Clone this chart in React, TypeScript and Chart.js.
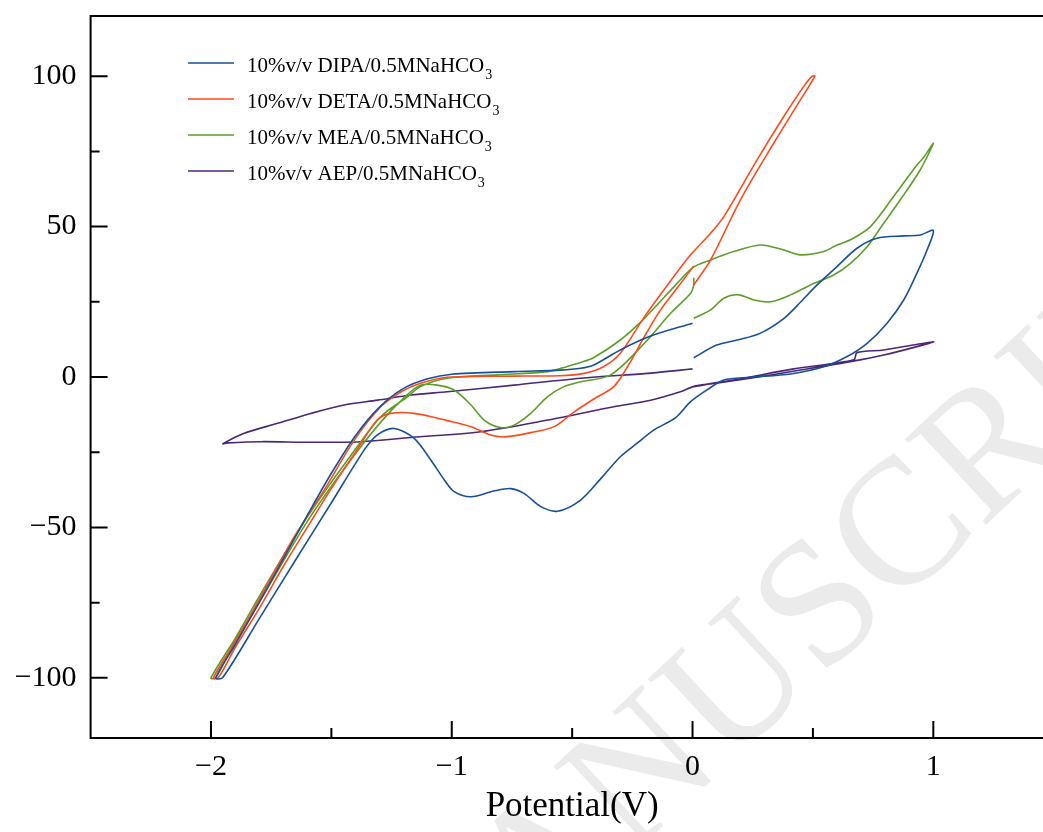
import React, { useEffect, useRef } from 'react';
import { Chart, registerables } from 'chart.js';

Chart.register(...registerables);

// ---------- data ----------
const seriesLabels = ['DIPA', 'DETA', 'MEA', 'AEP'];
const seriesColors = ['#17509a', '#ff4a1c', '#5c9e2a', '#4b2778'];

const xMajorTicks = [-2, -1, 0, 1];
const xMinorTicks = [-1.5, -0.5, 0.5];
const yMajorTicks = [-100, -50, 0, 50, 100];
const yMinorTicks = [-75, -25, 25, 75];

// DIPA (blue)
const dipaV = [0.005, 0.10, 0.185, 0.28, 0.38, 0.45, 0.517, 0.60, 0.683, 0.766, 0.877, 0.946, 1.0, 0.974, 0.932, 0.877, 0.808, 0.725, 0.642, 0.545, 0.407, 0.24, 0.13, 0.06, -0.008, -0.07, -0.16, -0.23, -0.30, -0.38, -0.465, -0.56, -0.63, -0.70, -0.755, -0.825, -0.92, -0.99, -1.03, -1.087, -1.156, -1.24, -1.31, -1.364, -1.5, -1.65, -1.8, -1.952, -1.98, -1.9, -1.8, -1.7, -1.6, -1.5, -1.4, -1.3, -1.2, -1.1, -1.0, -0.74, -0.55, -0.465, -0.41, -0.30, -0.174, 0.0];
const dipaI = [6.4, 10.6, 12.3, 14.5, 19.5, 25, 30.6, 36.7, 42.8, 46.1, 46.9, 47.2, 48.7, 42.2, 34.5, 25.6, 17.9, 11.2, 6.8, 3.4, 1.0, -0.1, -1.0, -4.3, -8.2, -13.5, -17.6, -22, -26.5, -33.7, -40.9, -44.6, -43.1, -38.7, -37.1, -37.9, -39.8, -38.1, -34.3, -27.6, -20.4, -17.1, -19.3, -24.3, -41.8, -61, -80.4, -100, -100, -89, -75, -60.5, -46, -32, -19.5, -10, -3.8, -0.6, 0.9, 1.8, 2.3, 2.9, 4.0, 9.0, 13.6, 17.9];

// DETA (red)
const detaV = [0.005, 0.075, 0.199, 0.337, 0.448, 0.508, 0.497, 0.462, 0.379, 0.268, 0.13, 0.075, -0.008, -0.10, -0.20, -0.30, -0.37, -0.45, -0.55, -0.74, -1.02, -1.13, -1.21, -1.295, -1.405, -1.53, -1.654, -1.8, -1.9, -1.99, -1.97, -1.9, -1.8, -1.7, -1.6, -1.5, -1.4, -1.31, -1.253, -1.156, -1.018, -0.92, -0.838, -0.78, -0.672, -0.575, -0.49, -0.41, -0.327, -0.27, -0.20, -0.133, -0.06, 0.005];
const detaI = [30.6, 38.9, 58.9, 77.7, 92.1, 100, 100, 96.6, 86.6, 72.2, 53.3, 47.8, 40.6, 31, 20, 7.9, 3.4, 1.2, 0.4, 0.3, -0.1, -2.1, -4.9, -9.9, -21, -37.6, -53.1, -74, -88, -100, -100, -90, -77, -63, -50, -37, -25, -14.3, -12.1, -12.1, -14.5, -16.5, -19.3, -19.9, -18.5, -16.5, -11.5, -7.3, -3.2, 3.4, 13.4, 22.3, 30, 36.9];

// MEA (green)
const meaV = [0.005, 0.075, 0.13, 0.192, 0.254, 0.324, 0.407, 0.49, 0.586, 0.656, 0.725, 0.794, 0.863, 0.946, 1.0, 0.96, 0.932, 0.835, 0.739, 0.656, 0.60, 0.545, 0.448, 0.379, 0.282, 0.171, 0.075, 0.0, -0.063, -0.20, -0.30, -0.41, -0.465, -0.52, -0.60, -0.81, -1.02, -1.13, -1.184, -1.295, -1.433, -1.6, -1.8, -1.9, -2.0, -1.98, -1.9, -1.8, -1.6, -1.433, -1.295, -1.2, -1.13, -1.06, -0.99, -0.92, -0.866, -0.797, -0.741, -0.672, -0.603, -0.534, -0.465, -0.34, -0.2, -0.091, -0.008, 0.005, 0.005];
const meaI = [19.5, 22.3, 26.2, 27.3, 25.6, 25.0, 27.3, 30.6, 33.9, 37.8, 43.3, 51.1, 58.9, 68.9, 77.7, 73, 70.5, 60, 50, 45.6, 43.9, 41.7, 40.6, 42.2, 43.9, 41.7, 38.9, 36.3, 31.2, 19.5, 12.3, 6.5, 4.8, 3.5, 1.8, 0.7, -0.4, -3.2, -6.6, -13.2, -27.6, -46.5, -73, -87, -100, -100, -88, -75, -48, -29, -15, -7, -2.7, -2.7, -4.3, -9.3, -14.3, -16.8, -16.0, -12.1, -6.6, -3.2, -1.6, 0.7, 11.2, 21.2, 27.8, 30.6, 33];

// AEP (purple)
const aepV = [0.005, 0.17, 0.42, 0.67, 0.683, 0.794, 1.0, 0.932, 0.794, 0.656, 0.448, 0.24, 0.005, -0.05, -0.174, -0.327, -0.60, -0.88, -1.17, -1.378, -1.585, -1.79, -1.93, -1.95, -1.862, -1.723, -1.585, -1.447, -1.308, -1.17, -1.018, -0.741, -0.465, -0.188, -0.05, 0.0];
const aepI = [-3.0, -1.0, 2.7, 5.7, 8.1, 9.0, 11.7, 10.1, 7.3, 5.1, 2.3, -0.4, -3.2, -4.9, -7.7, -9.9, -14.3, -18.2, -20.1, -21.5, -21.7, -21.5, -21.9, -22.2, -18.7, -15.4, -12.1, -9.3, -7.7, -6.0, -4.9, -2.7, -0.4, 1.2, 2.3, 2.7];

const seriesV = [dipaV, detaV, meaV, aepV];
const seriesI = [dipaI, detaI, meaI, aepI];

const watermarkText = 'ACCEPTED MANUSCRIPT';

// ---------- style ----------
const FONT = "'Liberation Serif', 'Times New Roman', serif";
const CANVAS_W = 1070;
const CANVAS_H = 832;

const fmt = (v: number) => (v < 0 ? '\u2212' + Math.abs(v) : String(v));

const watermarkPlugin = {
  id: 'watermarkPlugin',
  beforeDraw(chart: any) {
    const { ctx } = chart;
    ctx.save();
    ctx.fillStyle = '#ebebeb';
    ctx.font = '180px ' + FONT;
    ctx.textBaseline = 'middle';
    ctx.textAlign = 'left';
    ctx.translate(810, 624);
    ctx.rotate((-43 * Math.PI) / 180);
    const full = ctx.measureText(watermarkText).width;
    const tail = ctx.measureText('MANUSCRIPT').width;
    ctx.fillText(watermarkText, -(full - tail) - tail / 2, 0);
    ctx.restore();
  },
};

const axesPlugin = {
  id: 'axesPlugin',
  afterDatasetsDraw(chart: any) {
    const { ctx, chartArea, scales } = chart;
    const { left, right, top, bottom } = chartArea;
    const x = scales.x;
    const y = scales.y;
    ctx.save();
    ctx.strokeStyle = '#000';
    ctx.lineWidth = 2;
    ctx.lineCap = 'butt';
    ctx.beginPath();
    ctx.moveTo(left - 1, top);
    ctx.lineTo(right + 1, top);
    ctx.moveTo(left, top - 1);
    ctx.lineTo(left, bottom + 1);
    ctx.moveTo(left - 1, bottom);
    ctx.lineTo(right + 1, bottom);
    ctx.moveTo(right, top - 1);
    ctx.lineTo(right, bottom + 1);
    xMajorTicks.forEach((v) => {
      const p = x.getPixelForValue(v);
      ctx.moveTo(p, bottom);
      ctx.lineTo(p, bottom - 17);
    });
    xMinorTicks.forEach((v) => {
      const p = x.getPixelForValue(v);
      ctx.moveTo(p, bottom);
      ctx.lineTo(p, bottom - 10);
    });
    yMajorTicks.forEach((v) => {
      const p = y.getPixelForValue(v);
      ctx.moveTo(left, p);
      ctx.lineTo(left + 17, p);
    });
    yMinorTicks.forEach((v) => {
      const p = y.getPixelForValue(v);
      ctx.moveTo(left, p);
      ctx.lineTo(left + 9, p);
    });
    ctx.stroke();
    ctx.restore();
  },
};

const legendPlugin = {
  id: 'legendPlugin',
  afterDraw(chart: any) {
    const { ctx } = chart;
    ctx.save();
    seriesLabels.forEach((name, i) => {
      const yLine = 63 + 36 * i;
      ctx.strokeStyle = seriesColors[i];
      ctx.lineWidth = 1.6;
      ctx.beginPath();
      ctx.moveTo(188, yLine);
      ctx.lineTo(234, yLine);
      ctx.stroke();
      const main = '10%v/v ' + name + '/0.5MNaHCO';
      ctx.fillStyle = '#000';
      ctx.textBaseline = 'alphabetic';
      ctx.textAlign = 'left';
      ctx.font = '21px ' + FONT;
      ctx.fillText(main, 247, yLine + 9);
      const w = ctx.measureText(main).width;
      ctx.font = '14px ' + FONT;
      ctx.fillText('3', 247 + w + 1, yLine + 16);
    });
    ctx.restore();
  },
};

export default function App() {
  const ref = useRef<HTMLCanvasElement>(null);

  useEffect(() => {
    const canvas = ref.current;
    if (!canvas) return;
    const datasets = seriesLabels.map((name, i) => ({
      label: '10%v/v ' + name + '/0.5MNaHCO3',
      data: seriesV[i].map((v, k) => ({ x: v, y: seriesI[i][k] })),
      showLine: true,
      borderColor: seriesColors[i],
      backgroundColor: seriesColors[i],
      borderWidth: 1.6,
      pointRadius: 0,
      pointHoverRadius: 0,
      tension: 0.3,
      fill: false,
    }));

    const chart = new Chart(canvas, {
      type: 'scatter',
      data: { datasets },
      options: {
        responsive: false,
        animation: false,
        events: [],
        layout: { padding: { left: 0, top: 16, right: CANVAS_W - 1053.7, bottom: 0 } },
        plugins: {
          legend: { display: false },
          tooltip: { enabled: false },
          title: { display: false },
        },
        scales: {
          x: {
            type: 'linear',
            min: -2.5,
            max: 1.5,
            grid: { display: false, drawTicks: false },
            border: { display: false },
            afterBuildTicks: (s: any) => {
              s.ticks = xMajorTicks.map((v) => ({ value: v }));
            },
            afterFit: (s: any) => {
              s.height = CANVAS_H - 738;
              s.paddingLeft = 0;
              s.paddingRight = 0;
            },
            ticks: {
              callback: (v: any) => fmt(Number(v)),
              color: '#000',
              font: { family: FONT, size: 30 },
              padding: 11,
              maxRotation: 0,
              autoSkip: false,
            },
            title: {
              display: true,
              text: 'Potential(V)',
              color: '#000',
              font: { family: FONT, size: 35 },
              padding: { top: 0, bottom: 4 },
            },
          },
          y: {
            type: 'linear',
            min: -120,
            max: 120,
            grid: { display: false, drawTicks: false },
            border: { display: false },
            afterBuildTicks: (s: any) => {
              s.ticks = yMajorTicks.map((v) => ({ value: v }));
            },
            afterFit: (s: any) => {
              s.width = 90.6;
              s.paddingTop = 0;
              s.paddingBottom = 0;
            },
            ticks: {
              callback: (v: any) => fmt(Number(v)),
              color: '#000',
              font: { family: FONT, size: 30 },
              padding: 14,
              autoSkip: false,
            },
          },
        },
      },
      plugins: [watermarkPlugin, axesPlugin, legendPlugin],
    });
    return () => chart.destroy();
  }, []);

  return (
    <div
      style={{
        position: 'absolute',
        left: 0,
        top: 0,
        width: 1043,
        height: 832,
        overflow: 'hidden',
        background: '#fff',
      }}
    >
      <canvas
        ref={ref}
        width={CANVAS_W}
        height={CANVAS_H}
        style={{ display: 'block', width: CANVAS_W, height: CANVAS_H }}
      />
    </div>
  );
}
